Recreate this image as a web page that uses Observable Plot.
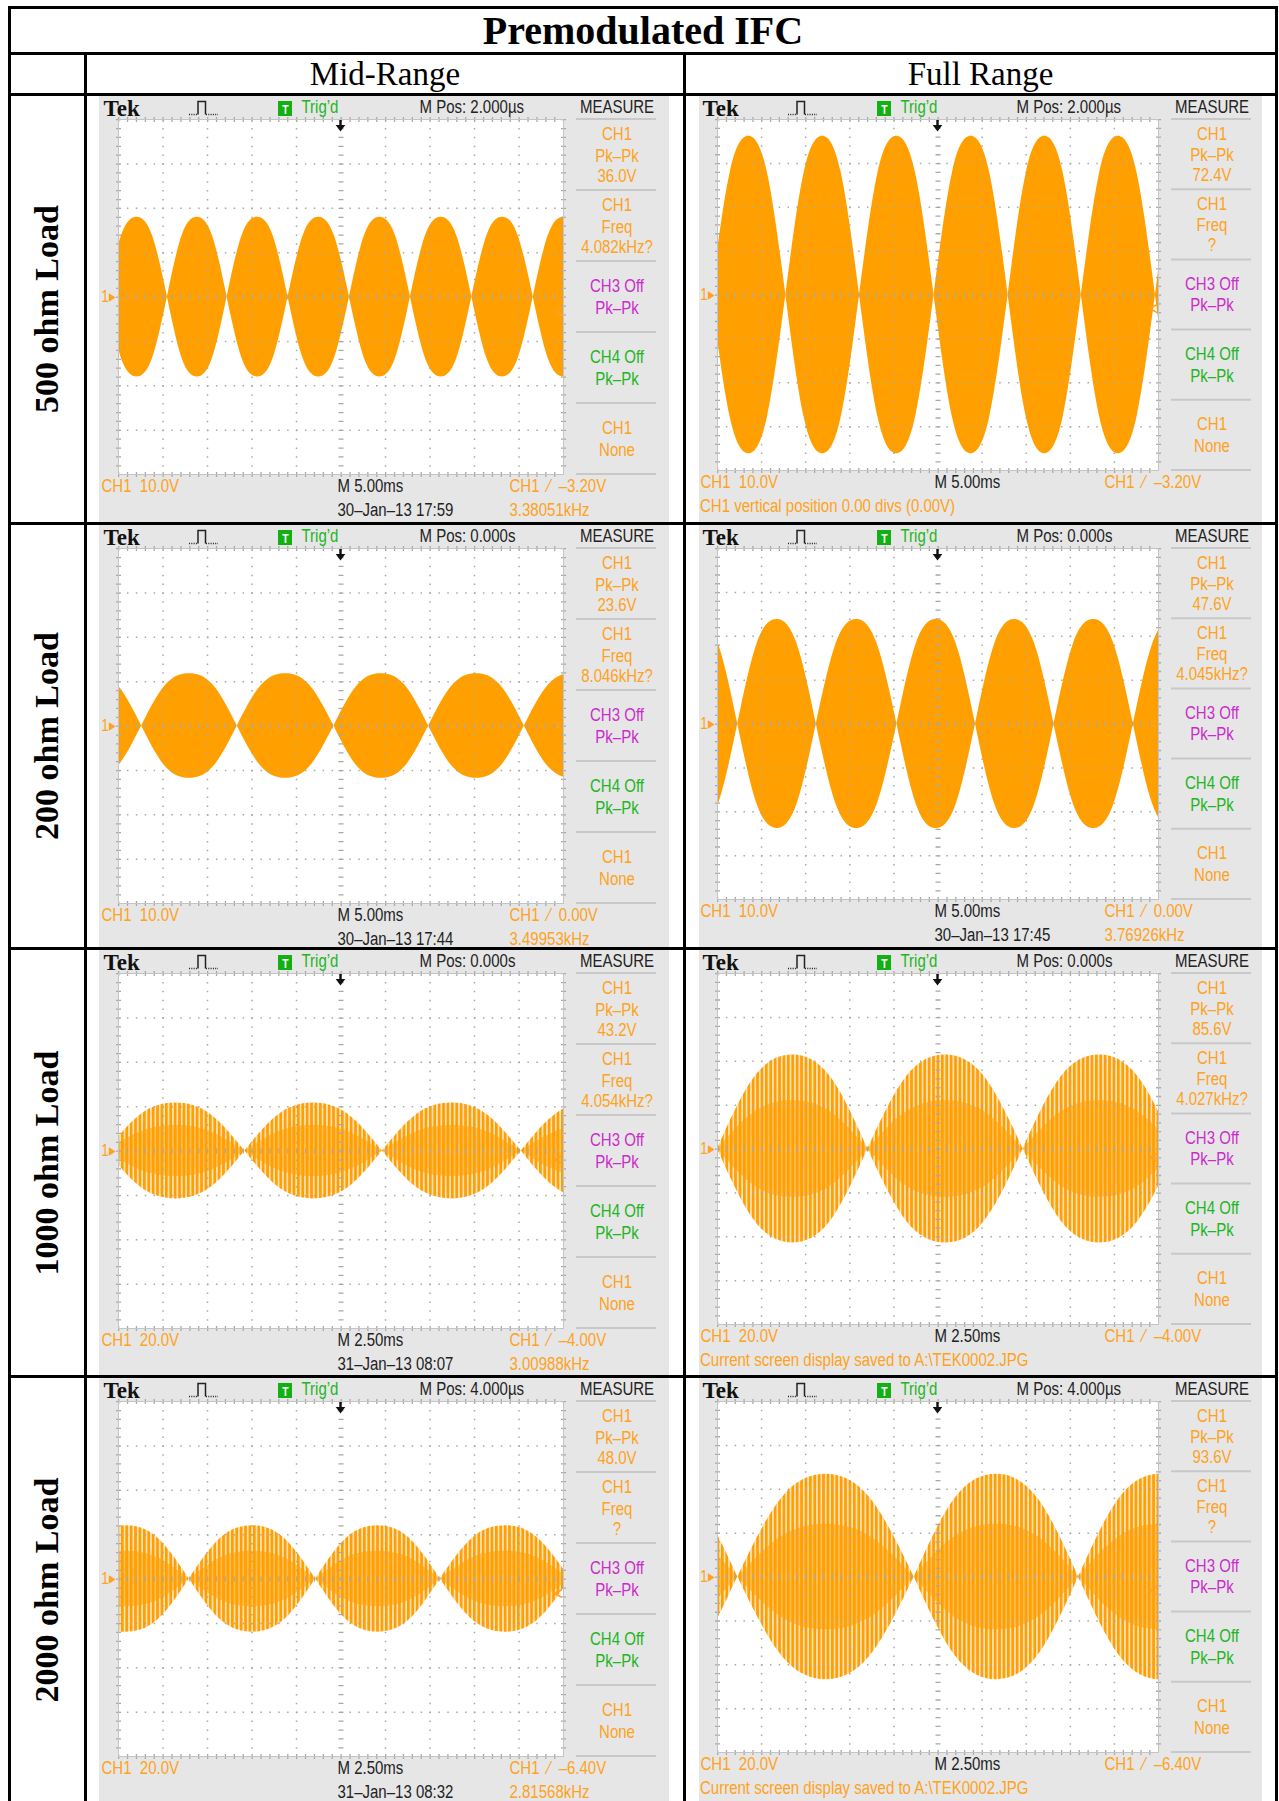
<!DOCTYPE html>
<html>
<head>
<meta charset="utf-8">
<script src="https://cdn.jsdelivr.net/npm/d3@7"></script>
<script src="https://cdn.jsdelivr.net/npm/@observablehq/plot@0.6"></script>
<style>
  html, body { margin: 0; padding: 0; background: #fff; }
  #page { position: relative; width: 1279px; height: 1801px; overflow: hidden; background: #fff; }
  .line { position: absolute; background: #000; }
  .serif { position: absolute; font-family: "Liberation Serif", "Times New Roman", serif; color: #000; white-space: nowrap; text-align: center; }
  .scope { position: absolute; }
  .scope svg { display: block; max-width: none; }
</style>
</head>
<body>
<div id="page"></div>
<script>
// ---------------- data ----------------
const tableTitle = "Premodulated IFC";
const rangeLabels = ["Mid-Range", "Full Range"];
const loadLabels = ["500 ohm Load", "200 ohm Load", "1000 ohm Load", "2000 ohm Load"];

// panels in reading order: row by row, Mid-Range then Full Range
const voltsPerDiv = [10, 10, 10, 10, 20, 20, 20, 20];
const timeBase = ["M 5.00ms", "M 5.00ms", "M 5.00ms", "M 5.00ms", "M 2.50ms", "M 2.50ms", "M 2.50ms", "M 2.50ms"];
const mPos = ["M Pos: 2.000\u00b5s", "M Pos: 2.000\u00b5s", "M Pos: 0.000s", "M Pos: 0.000s",
              "M Pos: 0.000s", "M Pos: 0.000s", "M Pos: 4.000\u00b5s", "M Pos: 4.000\u00b5s"];
const pkPk = ["36.0V", "72.4V", "23.6V", "47.6V", "43.2V", "85.6V", "48.0V", "93.6V"];
const freq = ["4.082kHz?", "?", "8.046kHz?", "4.045kHz?", "4.054kHz?", "4.027kHz?", "?", "?"];
const trigLevel = [-3.2, -3.2, 0, 0, -4.0, -4.0, -6.4, -6.4];
const trigLevelText = ["\u20133.20V", "\u20133.20V", "0.00V", "0.00V", "\u20134.00V", "\u20134.00V", "\u20136.40V", "\u20136.40V"];
const dateLine = ["30\u2013Jan\u201313 17:59", null, "30\u2013Jan\u201313 17:44", "30\u2013Jan\u201313 17:45",
                  "31\u2013Jan\u201313 08:07", null, "31\u2013Jan\u201313 08:32", null];
const trigFreq = ["3.38051kHz", null, "3.49953kHz", "3.76926kHz", "3.00988kHz", null, "2.81568kHz", null];
const messageLine = [null, "CH1 vertical position 0.00 divs (0.00V)", null, null,
                     null, "Current screen display saved to A:\\TEK0002.JPG", null, "Current screen display saved to A:\\TEK0002.JPG"];

// envelope read from the screens: zero crossings of the envelope (screen divisions, 0..10)
const envelopeNulls = [
  [-0.27, 1.10, 2.44, 3.81, 5.19, 6.56, 7.94, 9.32, 10.69],
  [-0.13, 1.55, 3.22, 4.91, 6.59, 8.25, 9.93, 11.61],
  [-1.63, 0.52, 2.67, 4.84, 6.97, 9.12, 11.27],
  [-1.33, 0.46, 2.24, 4.07, 5.85, 7.63, 9.43, 11.22],
  [-0.26, 2.84, 5.93, 9.05, 12.15],
  [0.00, 3.41, 6.93, 10.40],
  [-1.24, 1.59, 4.43, 7.23, 10.15],
  [-3.40, 0.46, 4.46, 8.19, 11.90]
];
// envelope height (volts) at the lobe crest and a quarter of the way in from each null
const envelopePeak = [18.0, 36.2, 11.8, 23.8, 21.6, 42.8, 24.0, 46.8];
const envelopeQuarter = [14.0, 28.0, 9.2, 18.5, 16.6, 33.0, 18.5, 36.0];
// denser inner band of the sparse-carrier screens (volts): crest and quarter
const innerPeak = [null, null, null, null, 11.5, 22.0, 12.5, 24.0];
const innerQuarter = [null, null, null, null, 8.8, 17.0, 9.6, 18.5];

// ---------------- styles / layout ----------------
const ORANGE = "#ff9f00", TXT_ORANGE = "#ffa21c", PALE = "#ffe2bb";
const MAGENTA = "#cc2ccc", GREEN = "#22b522", GREEN_BOX = "#12b012";
const GRID = "#a8a8a8", FRAME = "#c4c4c4", SEP = "#c8c8c8", SCREEN_BG = "#e6e6e6";
const colLeft = [99, 699];
const rowTop = [96, 525, 950, 1378];
const rowHeight = [426, 422, 425, 423];
const geom = [
  {W: 570, ML: 19, gw: 445, MT: 23, gh: 355},
  {W: 563, ML: 18, gw: 441, MT: 23, gh: 351}
];

const page = document.getElementById("page");

function rule(x, y, w, h) {
  const d = document.createElement("div");
  d.className = "line";
  Object.assign(d.style, {left: x + "px", top: y + "px", width: w + "px", height: h + "px"});
  page.appendChild(d);
}
function serifText(txt, style) {
  const d = document.createElement("div");
  d.className = "serif";
  d.textContent = txt;
  Object.assign(d.style, style);
  page.appendChild(d);
  return d;
}

// table text
serifText(tableTitle, {left: "8px", top: "9px", width: "1270px", height: "43px", lineHeight: "43px", fontSize: "40px", fontWeight: "bold"});
serifText(rangeLabels[0], {left: "86px", top: "55px", width: "598px", height: "38px", lineHeight: "38px", fontSize: "33px"});
serifText(rangeLabels[1], {left: "685px", top: "55px", width: "591px", height: "38px", lineHeight: "38px", fontSize: "33px"});
loadLabels.forEach((lab, r) => {
  serifText(lab, {left: "47px", top: (rowTop[r] + rowHeight[r] / 2) + "px", fontSize: "34px", fontWeight: "bold",
    lineHeight: "1", transform: "translate(-50%, -50%) rotate(-90deg)"});
});

// one row per envelope reading: null, quarter, crest, quarter, null for every lobe
function lobes(p, peak, quarter) {
  const nulls = envelopeNulls[p], rows = [];
  for (let k = 0; k + 1 < nulls.length; ++k) {
    const a = nulls[k], b = nulls[k + 1], w = b - a;
    rows.push(
      {lobe: k, t: a, v: 0},
      {lobe: k, t: a + w / 4, v: quarter},
      {lobe: k, t: a + w / 2, v: peak},
      {lobe: k, t: b - w / 4, v: quarter},
      {lobe: k, t: b, v: 0}
    );
  }
  return rows;
}

function screenDecor(p) {
  return (index, scales, values, dim) => {
    const g = d3.create("svg:g");
    const gl = dim.marginLeft, gt = dim.marginTop;
    const gr = dim.width - dim.marginRight, gb = dim.height - dim.marginBottom;
    const gc = (gl + gr) / 2;
    const pat = g.append("defs").append("pattern").attr("id", "carrier" + p)
      .attr("patternUnits", "userSpaceOnUse").attr("width", 4.4).attr("height", 10);
    pat.append("rect").attr("width", 4.4).attr("height", 10).attr("fill", PALE);
    pat.append("rect").attr("width", 2.7).attr("height", 10).attr("fill", ORANGE);
    for (let k = 0; k <= 5; ++k) {
      const y = gt + k * (gb - gt) / 5;
      g.append("line").attr("x1", gr + 13).attr("x2", gr + 93).attr("y1", y).attr("y2", y)
        .attr("stroke", SEP).attr("stroke-width", 2);
    }
    g.append("rect").attr("x", gl + 160).attr("y", 5).attr("width", 14).attr("height", 15).attr("fill", GREEN_BOX);
    g.append("path").attr("d", `M${gl + 71},18.5h9M${gl + 88},18.5h12`).attr("stroke", "#222")
      .attr("stroke-width", 1.3).attr("stroke-dasharray", "1 1.3").attr("fill", "none");
    g.append("path").attr("d", `M${gl + 80},18.5V5.5h7.5V18.5`).attr("stroke", "#222").attr("stroke-width", 1.5).attr("fill", "none");
    g.append("path").attr("d", `M${gc - 1.2},${gt + 1}h2.4v5h3.6l-4.8,6.5l-4.8,-6.5h3.6z`).attr("fill", "#111");
    return g.node();
  };
}

function scope(p) {
  const col = p % 2, row = (p - col) / 2;
  const G = geom[col], H = rowHeight[row];
  const MR = G.W - G.ML - G.gw, MB = H - G.MT - G.gh;
  const vd = voltsPerDiv[p];
  const striped = innerPeak[p] != null;
  const ph = G.gh / 5;
  const font = {fontFamily: "Liberation Sans", fontSize: 19, lineAnchor: "bottom"};
  const label = (txt, frameAnchor, dx, dy, fill, textAnchor = "start", extra = {}) =>
    Plot.text([txt], {text: (d) => d, frameAnchor, dx, dy, fill, textAnchor, ...font, ...extra});

  const majorX = d3.range(1, 10).filter((d) => d !== 5);
  const majorY = d3.range(-3, 4).filter((d) => d !== 0).map((d) => d * vd);
  const stepY = G.gh / 40, stepX = G.gw / 50;

  const marks = [
    Plot.frame({fill: "white", stroke: "none"}),
    Plot.areaY(lobes(p, envelopePeak[p], envelopeQuarter[p]), {x: "t", y1: (d) => -d.v, y2: "v", z: "lobe", curve: "natural",
      fill: striped ? `url(#carrier${p})` : ORANGE, clip: true})
  ];
  if (striped) {
    marks.push(Plot.areaY(lobes(p, innerPeak[p], innerQuarter[p]), {x: "t", y1: (d) => -d.v, y2: "v", z: "lobe", curve: "natural",
      fill: ORANGE, fillOpacity: 0.55, clip: true}));
  }
  marks.push(
    Plot.ruleX(majorX, {stroke: GRID, strokeWidth: 1.5, strokeDasharray: `1.5 ${stepY - 1.5}`}),
    Plot.ruleY(majorY, {stroke: GRID, strokeWidth: 1.5, strokeDasharray: `1.5 ${stepX - 1.5}`}),
    Plot.ruleX([5], {stroke: GRID, strokeWidth: 5, strokeDasharray: `1.3 ${stepY - 1.3}`}),
    Plot.ruleY([0], {stroke: GRID, strokeWidth: 5, strokeDasharray: `1.3 ${stepX - 1.3}`}),
    Plot.ruleX([0, 10], {stroke: GRID, strokeWidth: 5, strokeDasharray: `1.3 ${stepY - 1.3}`}),
    Plot.ruleY([-4 * vd, 4 * vd], {stroke: GRID, strokeWidth: 5, strokeDasharray: `1.3 ${stepX - 1.3}`}),
    Plot.frame({stroke: FRAME}),
    screenDecor(p),
    // markers: ground reference and trigger level
    Plot.text([{t: 0, v: 0}], {x: "t", y: "v", text: () => "1\u25b8", dx: -10, textAnchor: "middle", lineAnchor: "middle",
      fill: TXT_ORANGE, fontSize: 17, fontFamily: "Liberation Sans"}),
    Plot.text([{t: 10, v: trigLevel[p]}], {x: "t", y: "v", text: () => "<", dx: -5, textAnchor: "middle", lineAnchor: "middle",
      fill: TXT_ORANGE, fontSize: 17, fontWeight: "bold", fontFamily: "Liberation Sans"}),
    // top bar
    label("Tek", "top-left", -15, -3.5, "#111", "start", {fontFamily: "Liberation Serif", fontWeight: "bold", fontSize: 23}),
    label("T", "top-left", 167, -6, "#fff", "middle", {fontWeight: "bold", fontSize: 13}),
    label("Trig\u2019d", "top-left", 183, -6.5, GREEN),
    label(mPos[p], "top", 78.5, -6.5, "#222"),
    label("MEASURE", "top-right", 53.5, -6.3, "#222", "middle")
  );
  const blocks = [
    {lines: ["CH1", "Pk\u2013Pk", pkPk[p]], color: TXT_ORANGE},
    {lines: ["CH1", "Freq", freq[p]], color: TXT_ORANGE},
    {lines: ["CH3 Off", "Pk\u2013Pk"], color: MAGENTA},
    {lines: ["CH4 Off", "Pk\u2013Pk"], color: GREEN},
    {lines: ["CH1", "None"], color: TXT_ORANGE}
  ];
  blocks.forEach((b, k) => {
    const fr = b.lines.length === 3 ? [0.289, 0.592, 0.88] : [0.43, 0.735];
    b.lines.forEach((ln, i) => marks.push(label(ln, "top-right", 53.5, k * ph + fr[i] * ph, b.color, "middle")));
  });
  marks.push(
    label(`CH1\u00a0\u00a0${vd.toFixed(1)}V`, "bottom-left", -17, 17.7, TXT_ORANGE),
    label(timeBase[p], "bottom", -3.5, 17.7, "#222"),
    label(`CH1\u00a0\u00a0\u2215\u00a0\u00a0${trigLevelText[p]}`, "bottom-right", -54, 17.7, TXT_ORANGE)
  );
  if (dateLine[p]) marks.push(label(dateLine[p], "bottom", -3.5, 41.5, "#222"));
  if (trigFreq[p]) marks.push(label(trigFreq[p], "bottom-right", -54, 41.5, TXT_ORANGE));
  if (messageLine[p]) marks.push(label(messageLine[p], "bottom-left", -17.5, 41.5, TXT_ORANGE));

  const svg = Plot.plot({
    width: G.W, height: H,
    marginLeft: G.ML, marginRight: MR, marginTop: G.MT, marginBottom: MB,
    x: {domain: [0, 10], axis: null},
    y: {domain: [-4 * vd, 4 * vd], axis: null},
    style: {background: SCREEN_BG, overflow: "visible"},
    marks
  });
  // Tek screen font is narrow: condense the sans-serif labels horizontally
  svg.querySelectorAll("g[font-family] text").forEach((t) => {
    const fam = t.parentNode.getAttribute("font-family") || "";
    if (fam.startsWith("Liberation Sans")) t.setAttribute("transform", (t.getAttribute("transform") || "") + " scale(0.79,1)");
  });
  const holder = document.createElement("div");
  holder.className = "scope";
  Object.assign(holder.style, {left: colLeft[col] + "px", top: rowTop[row] + "px", width: G.W + "px", height: H + "px"});
  holder.appendChild(svg);
  page.appendChild(holder);
}

for (let p = 0; p < 8; ++p) scope(p);

// table rules
rule(8, 6, 1270, 3);
rule(8, 52, 1270, 3);
rule(8, 93, 1270, 3);
rule(8, 522, 1270, 3);
rule(8, 947, 1270, 3);
rule(8, 1375, 1270, 3);
rule(8, 6, 3, 1795);
rule(1275, 6, 3, 1795);
rule(84, 52, 3, 1749);
rule(683, 52, 3, 1749);
</script>
</body>
</html>
